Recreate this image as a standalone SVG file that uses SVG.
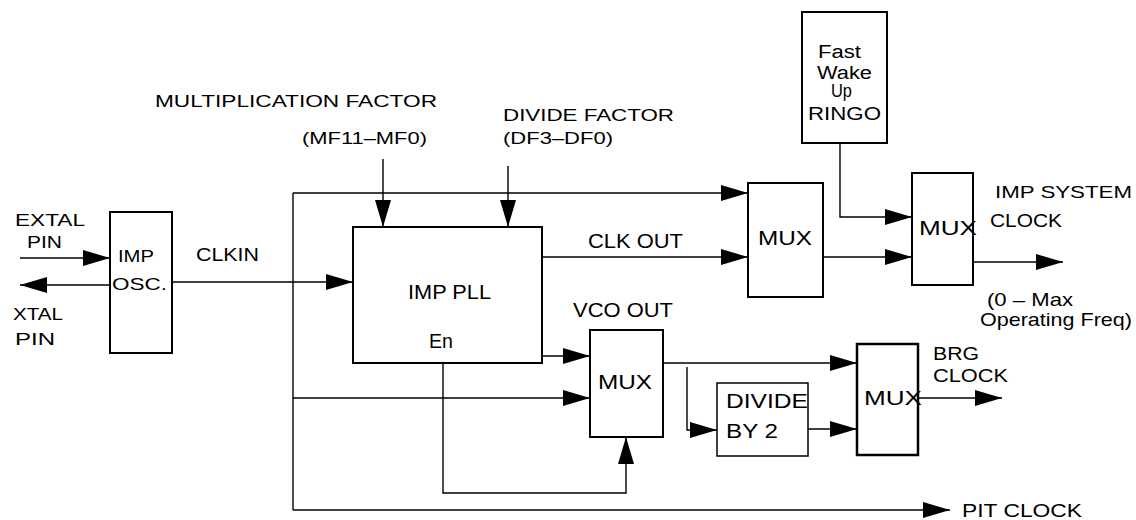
<svg xmlns="http://www.w3.org/2000/svg" width="1136" height="520" viewBox="0 0 1136 520">
<style>
.box{fill:#fff;stroke:#000;stroke-width:2}
.ln{fill:none;stroke:#000;stroke-width:1.4}
.ar{marker-end:url(#ah)}
text{font-family:"Liberation Sans",Arial,Helvetica,sans-serif;fill:#000}
.s16{font-size:16px}.s17{font-size:17px}.s18{font-size:18px}.s19{font-size:19px}.s20{font-size:20px}.s21{font-size:21px}
</style>
<defs>
<marker id="ah" markerUnits="userSpaceOnUse" markerWidth="27" markerHeight="16" refX="27" refY="8" orient="auto">
<path d="M0,0 L27,8 L0,16 Z" fill="#000"/>
</marker>
</defs>
<rect width="1136" height="520" fill="#fff"/>

<g id="connectors">
<line class="ln ar" x1="20" y1="258" x2="110" y2="258"/>
<line class="ln ar" x1="110" y1="285" x2="20" y2="285"/>
<line class="ln ar" x1="172" y1="282" x2="353" y2="282"/>
<line class="ln" x1="293" y1="193" x2="293" y2="510"/>
<line class="ln ar" x1="293" y1="193" x2="748" y2="193"/>
<line class="ln ar" x1="383" y1="159" x2="383" y2="227"/>
<line class="ln ar" x1="508" y1="166" x2="508" y2="227"/>
<line class="ln ar" x1="542" y1="257" x2="748" y2="257"/>
<line class="ln ar" x1="542" y1="356" x2="590" y2="356"/>
<line class="ln ar" x1="293" y1="398" x2="590" y2="398"/>
<polyline class="ln ar" points="443,363 443,493 626,493 626,437"/>
<line class="ln ar" x1="293" y1="510" x2="950" y2="510"/>
<line class="ln ar" x1="823" y1="257" x2="912" y2="257"/>
<polyline class="ln ar" points="840,143 840,217 912,217"/>
<line class="ln ar" x1="973" y1="262" x2="1063" y2="262"/>
<line class="ln ar" x1="663" y1="363" x2="857" y2="363"/>
<polyline class="ln ar" points="687,367 687,430 717,430"/>
<line class="ln ar" x1="808" y1="429" x2="857" y2="429"/>
<line class="ln ar" x1="918" y1="398" x2="1002" y2="398"/>
</g>

<g id="osc">
<rect class="box" x="110" y="212" width="62" height="141"/>
<text class="s17" x="118" y="262" textLength="36" lengthAdjust="spacingAndGlyphs">IMP</text>
<text class="s17" x="112" y="290" textLength="55" lengthAdjust="spacingAndGlyphs">OSC.</text>
</g>

<g id="pll">
<rect class="box" x="353" y="227" width="189" height="136"/>
<text class="s21" x="408" y="299" textLength="83" lengthAdjust="spacingAndGlyphs">IMP PLL</text>
<text class="s20" x="429" y="348" textLength="24" lengthAdjust="spacingAndGlyphs">En</text>
</g>

<g id="mux1">
<rect class="box" x="748" y="183" width="75" height="114"/>
<text class="s21" x="758" y="245" textLength="54" lengthAdjust="spacingAndGlyphs">MUX</text>
</g>

<g id="mux2">
<rect class="box" x="590" y="330" width="73" height="107"/>
<text class="s21" x="598" y="389" textLength="54" lengthAdjust="spacingAndGlyphs">MUX</text>
</g>

<g id="ringo">
<rect class="box" x="802" y="12" width="85" height="131"/>
<text class="s18" x="818" y="58" textLength="43" lengthAdjust="spacingAndGlyphs">Fast</text>
<text class="s18" x="817" y="79" textLength="55" lengthAdjust="spacingAndGlyphs">Wake</text>
<text class="s18" x="831" y="97" textLength="21" lengthAdjust="spacingAndGlyphs">Up</text>
<text class="s19" x="808" y="120" textLength="73" lengthAdjust="spacingAndGlyphs">RINGO</text>
</g>

<g id="mux3">
<rect class="box" x="912" y="173" width="61" height="112"/>
<text class="s21" x="919" y="235" textLength="58" lengthAdjust="spacingAndGlyphs">MUX</text>
</g>

<g id="divide">
<rect class="box" x="717" y="383" width="91" height="73" style="stroke-width:1.5"/>
<text class="s21" x="726" y="408" textLength="82" lengthAdjust="spacingAndGlyphs">DIVIDE</text>
<text class="s21" x="726" y="438" textLength="52" lengthAdjust="spacingAndGlyphs">BY 2</text>
</g>

<g id="mux4">
<rect class="box" x="857" y="344" width="61" height="111" style="stroke-width:2.5"/>
<text class="s21" x="864" y="405" textLength="58" lengthAdjust="spacingAndGlyphs">MUX</text>
</g>

<g id="labels">
<text class="s17" x="15" y="226" textLength="70" lengthAdjust="spacingAndGlyphs">EXTAL</text>
<text class="s17" x="27" y="248" textLength="35" lengthAdjust="spacingAndGlyphs">PIN</text>
<text class="s17" x="13" y="320" textLength="50" lengthAdjust="spacingAndGlyphs">XTAL</text>
<text class="s17" x="15" y="345" textLength="40" lengthAdjust="spacingAndGlyphs">PIN</text>
<text class="s18" x="196" y="261" textLength="63" lengthAdjust="spacingAndGlyphs">CLKIN</text>
<text class="s16" x="155" y="107" textLength="282" lengthAdjust="spacingAndGlyphs">MULTIPLICATION FACTOR</text>
<text class="s17" x="302" y="144" textLength="125" lengthAdjust="spacingAndGlyphs">(MF11–MF0)</text>
<text class="s17" x="503" y="121" textLength="171" lengthAdjust="spacingAndGlyphs">DIVIDE FACTOR</text>
<text class="s17" x="503" y="144" textLength="110" lengthAdjust="spacingAndGlyphs">(DF3–DF0)</text>
<text class="s21" x="588" y="248" textLength="95" lengthAdjust="spacingAndGlyphs">CLK OUT</text>
<text class="s21" x="573" y="317" textLength="100" lengthAdjust="spacingAndGlyphs">VCO OUT</text>
<text class="s17" x="995" y="198" textLength="137" lengthAdjust="spacingAndGlyphs">IMP SYSTEM</text>
<text class="s18" x="990" y="227" textLength="72" lengthAdjust="spacingAndGlyphs">CLOCK</text>
<text class="s19" x="987" y="306" textLength="86" lengthAdjust="spacingAndGlyphs">(0 – Max</text>
<text class="s19" x="980" y="326" textLength="152" lengthAdjust="spacingAndGlyphs">Operating Freq)</text>
<text class="s19" x="933" y="360" textLength="46" lengthAdjust="spacingAndGlyphs">BRG</text>
<text class="s19" x="933" y="382" textLength="75" lengthAdjust="spacingAndGlyphs">CLOCK</text>
<text class="s19" x="962" y="517" textLength="120" lengthAdjust="spacingAndGlyphs">PIT  CLOCK</text>
</g>
</svg>
